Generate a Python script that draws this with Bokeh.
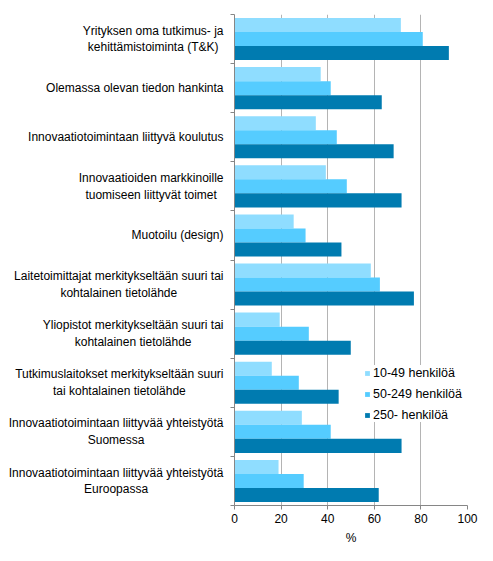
from bokeh.plotting import figure
from bokeh.layouts import row
from bokeh.models import (ColumnDataSource, Range1d, FixedTicker, Label,
                          Legend, LegendItem)
from bokeh.transform import dodge
from bokeh.embed import file_html
from bokeh.resources import INLINE

# kategoriat ylhäältä alas
categories = [
    "Yrityksen oma tutkimus- ja\nkehittämistoiminta (T&K)",
    "Olemassa olevan tiedon hankinta",
    "Innovaatiotoimintaan liittyvä koulutus",
    "Innovaatioiden markkinoille\ntuomiseen liittyvät toimet",
    "Muotoilu (design)",
    "Laitetoimittajat merkitykseltään suuri tai\nkohtalainen tietolähde",
    "Yliopistot merkitykseltään suuri tai\nkohtalainen tietolähde",
    "Tutkimuslaitokset merkitykseltään suuri\ntai kohtalainen tietolähde",
    "Innovaatiotoimintaan liittyvää yhteistyötä\nSuomessa",
    "Innovaatiotoimintaan liittyvää yhteistyötä\nEuroopassa",
]
small = [71.4, 37.0, 34.9, 39.2, 25.4, 58.5, 19.4, 16.0, 28.9, 18.9]
medium = [80.8, 41.3, 43.9, 48.2, 30.5, 62.4, 31.9, 27.6, 41.3, 29.7]
large = [92.0, 63.2, 68.3, 71.7, 45.9, 77.0, 49.9, 44.7, 71.7, 61.9]
series_names = ["10-49 henkilöä", "50-249 henkilöä", "250- henkilöä"]
colors = ["#8FDDFF", "#55CCFF", "#007BB0"]
x_ticks = [0, 20, 40, 60, 80, 100]

FONT = "Liberation Sans"
n = len(categories)
centers = [n - 0.5 - i for i in range(n)]
LEFT_W = 224

# vasen osa: kategorioiden nimet
lab = figure(width=LEFT_W, height=553, output_backend="svg", toolbar_location=None,
             x_range=Range1d(0, LEFT_W), y_range=Range1d(0, n),
             x_axis_type=None, y_axis_type=None,
             min_border_left=0, min_border_right=0,
             min_border_top=14, min_border_bottom=48)
lab.outline_line_color = None
for c, txt in zip(centers, categories):
    lab.add_layout(Label(x=LEFT_W - 1, y=c, text=txt, anchor="center_right",
                         text_align="center", text_baseline="middle",
                         text_font=FONT, text_font_size="12px",
                         text_color="black", text_line_height=1.2))

# oikea osa: pylväät
p = figure(width=485 - LEFT_W, height=553, output_backend="svg", toolbar_location=None,
           x_range=Range1d(0, 100), y_range=Range1d(0, n),
           min_border_left=10, min_border_right=18,
           min_border_top=14, min_border_bottom=48)
p.outline_line_color = None

bar_h = 0.286
offsets = [bar_h, 0, -bar_h]
items = []
for vals, name, col, off in zip([small, medium, large], series_names, colors, offsets):
    src = ColumnDataSource(data=dict(y=centers, v=vals))
    r = p.hbar(y=dodge("y", off), right="v", left=0, height=bar_h, source=src,
               fill_color=col, line_color=None)
    items.append(LegendItem(label=name, renderers=[r]))

p.xaxis.ticker = FixedTicker(ticks=x_ticks)
p.xaxis.axis_label = "%"
p.xaxis.axis_label_text_font = FONT
p.xaxis.axis_label_text_font_style = "normal"
p.xaxis.axis_label_text_font_size = "12px"
p.xaxis.axis_label_text_color = "black"
p.xaxis.axis_label_standoff = 5
p.xaxis.major_label_text_font = FONT
p.xaxis.major_label_text_font_size = "12px"
p.xaxis.major_label_text_color = "black"
p.xaxis.major_label_standoff = 4
p.xaxis.axis_line_color = "#868686"
p.xaxis.major_tick_line_color = "#868686"
p.xaxis.major_tick_out = 4
p.xaxis.major_tick_in = 0
p.xaxis.minor_tick_line_color = None

# y-akselilla vain väliviivat kategorioiden rajoilla
p.yaxis.ticker = FixedTicker(ticks=[], minor_ticks=list(range(n + 1)))
p.yaxis.major_label_standoff = 0
p.yaxis.axis_line_color = "#868686"
p.yaxis.minor_tick_line_color = "#868686"
p.yaxis.minor_tick_out = 4
p.yaxis.minor_tick_in = 0

p.xgrid.grid_line_color = "#B4B4B4"
p.ygrid.grid_line_color = None

legend = Legend(items=items, location=(130, 83), orientation="vertical")
legend.label_text_font = FONT
legend.label_text_font_size = "12.5px"
legend.label_text_color = "black"
legend.glyph_width = 6
legend.glyph_height = 6
legend.label_height = 15
legend.spacing = 6
legend.padding = 2
legend.margin = 0
legend.label_standoff = 3
legend.border_line_color = None
legend.background_fill_color = "white"
legend.background_fill_alpha = 1
p.add_layout(legend)

open("out.html", "w").write(file_html(row(lab, p), INLINE))
